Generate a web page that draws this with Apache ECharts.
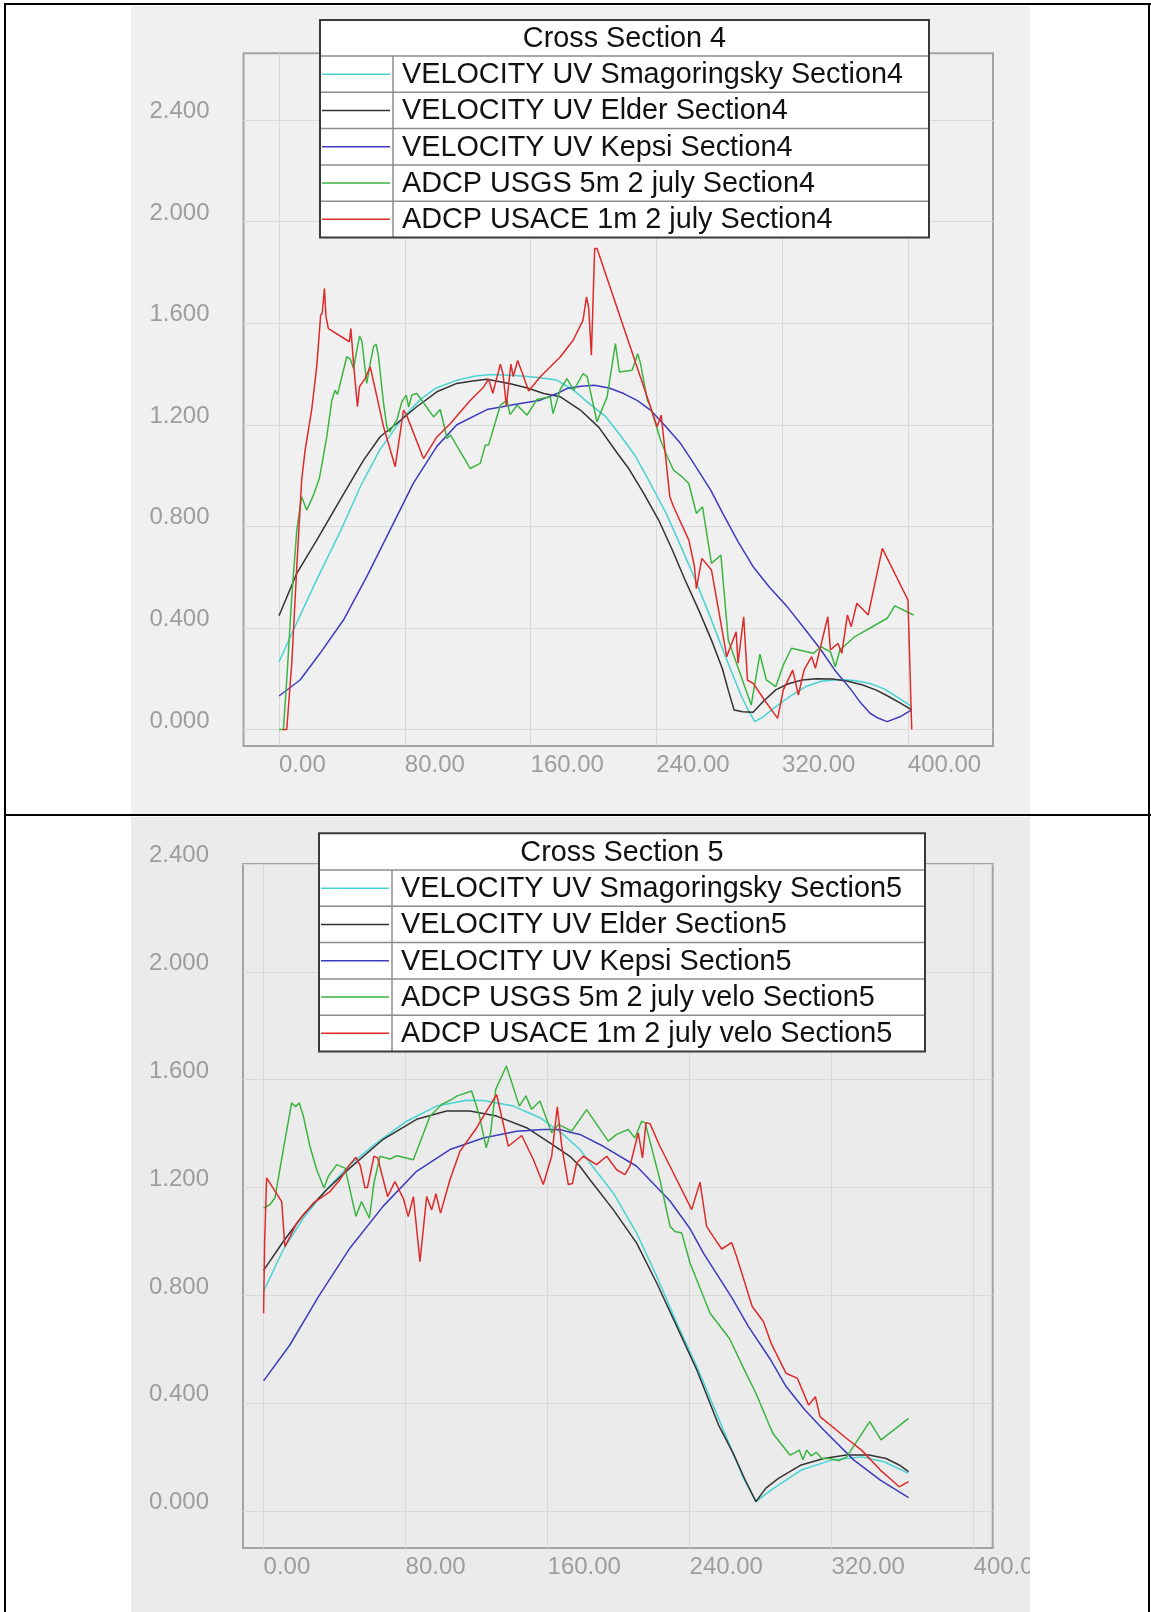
<!DOCTYPE html>
<html><head><meta charset="utf-8">
<script src="https://cdn.jsdelivr.net/npm/echarts@6/dist/echarts.min.js"></script>
<style>
html,body{margin:0;padding:0;background:#fff;width:1151px;height:1612px;overflow:hidden;}
.bg{position:absolute;}
#chart{position:absolute;left:131px;top:0;width:899px;height:1612px;overflow:hidden;}
.ln{position:absolute;background:#000;}
</style></head><body>
<div class="bg" style="left:131px;top:6px;width:899px;height:808px;background:#f0f0f0"></div>
<div class="bg" style="left:131px;top:817px;width:899px;height:795px;background:#ebebeb"></div>
<div id="chart"></div>
<div class="ln" style="left:4px;top:3px;width:1147px;height:2px"></div>
<div class="ln" style="left:4px;top:3px;width:2px;height:1609px"></div>
<div class="ln" style="left:1148px;top:3px;width:2px;height:1609px"></div>
<div class="ln" style="left:4px;top:814px;width:1147px;height:2px"></div>
<script>
// ---------- tick labels ----------
const xTicks = [0, 80, 160, 240, 320, 400];
const yTicks = [0, 0.4, 0.8, 1.2, 1.6, 2.0, 2.4];

// ---------- legend texts ----------
const title4 = 'Cross Section 4';
const names4 = ['VELOCITY UV Smagoringsky Section4', 'VELOCITY UV Elder Section4', 'VELOCITY UV Kepsi Section4', 'ADCP USGS 5m 2 july Section4', 'ADCP USACE 1m 2 july Section4'];
const title5 = 'Cross Section 5';
const names5 = ['VELOCITY UV Smagoringsky Section5', 'VELOCITY UV Elder Section5', 'VELOCITY UV Kepsi Section5', 'ADCP USGS 5m 2 july velo Section5', 'ADCP USACE 1m 2 july velo Section5'];
const colors = ['#48d3d3', '#333333', '#3c3cbc', '#3cb443', '#dd2b2b'];

// ---------- Cross Section 4 data [distance, velocity] ----------
const smag4 = [[0,0.267],[9,0.39],[24,0.59],[39,0.78],[52,0.96],[64,1.1],[79,1.23],[90,1.3],[100,1.345],[113,1.375],[125,1.392],[135,1.398],[148,1.395],[160,1.389],[170,1.382],[177,1.375],[187.5,1.336],[196,1.29],[207.8,1.232],[217,1.16],[227,1.074],[237,0.96],[246.3,0.851],[255,0.73],[263.1,0.615],[272,0.48],[280,0.352],[287,0.24],[294.3,0.129],[299,0.07],[302.7,0.031],[308,0.05],[316,0.09],[325,0.13],[335.2,0.169],[345,0.19],[356.8,0.197],[366,0.193],[376,0.181],[385,0.16],[394,0.125],[402.5,0.09]];
const elder4 = [[0,0.448],[11.3,0.615],[24,0.746],[38.9,0.904],[47,0.99],[53.7,1.06],[64.3,1.153],[74.9,1.205],[87.6,1.271],[100.4,1.33],[113.1,1.363],[123,1.372],[132.3,1.379],[147.1,1.362],[158,1.345],[168.4,1.323],[179,1.31],[191.7,1.258],[203.5,1.19],[215,1.09],[222.2,1.03],[232,0.93],[241.5,0.825],[250,0.71],[258.3,0.589],[267,0.47],[275.1,0.352],[282,0.24],[286,0.15],[289.5,0.077],[295,0.07],[301.6,0.068],[308,0.11],[316,0.156],[324,0.18],[332.8,0.195],[342,0.2],[352,0.199],[362,0.19],[371.3,0.175],[380,0.155],[388.1,0.129],[395,0.105],[402.5,0.077]];
const kepsi4 = [[0,0.132],[13.4,0.195],[26.1,0.3],[41,0.431],[55.8,0.602],[70.6,0.785],[85.5,0.97],[100.4,1.115],[113.1,1.2],[132.3,1.26],[153.5,1.284],[166.2,1.297],[176.8,1.323],[183.2,1.343],[192,1.352],[200.6,1.356],[210,1.345],[219.3,1.323],[228,1.295],[236.3,1.258],[245,1.2],[255.5,1.126],[263.1,1.055],[274.6,0.943],[282.3,0.851],[292,0.74],[301.6,0.641],[312,0.56],[323.2,0.484],[334,0.4],[344.8,0.313],[354,0.23],[364,0.156],[370,0.105],[376,0.064],[381,0.045],[386.9,0.031],[395,0.05],[402.5,0.077]];
const usgs4 = [[0,0],[2.8,0],[4.9,0.195],[8.1,0.523],[11.3,0.785],[14.4,0.917],[17.6,0.864],[21.9,0.923],[25.7,0.99],[30.4,1.153],[33.6,1.297],[35.7,1.336],[37.2,1.32],[43.1,1.468],[45.2,1.46],[47.4,1.422],[51.2,1.549],[52.7,1.53],[55.8,1.363],[58,1.442],[60.1,1.507],[61.8,1.518],[63.3,1.468],[66.5,1.284],[68.6,1.192],[70.3,1.172],[74.9,1.218],[78.1,1.29],[80.9,1.317],[82.5,1.27],[84.5,1.317],[87.7,1.323],[98.3,1.231],[102.5,1.26],[104.7,1.205],[106.8,1.146],[109,1.16],[121.6,1.028],[128,1.048],[131.2,1.12],[133.3,1.12],[140.8,1.277],[145,1.297],[147,1.24],[151.4,1.277],[157.8,1.238],[160,1.26],[164.1,1.3],[172.6,1.31],[174.3,1.244],[179,1.34],[183.2,1.382],[187.5,1.336],[193.4,1.402],[196,1.39],[202.3,1.212],[208.7,1.31],[214,1.52],[216.5,1.408],[224.6,1.415],[228.2,1.48],[230,1.44],[234.3,1.297],[236.3,1.271],[242.7,1.14],[247,1.074],[251,1.021],[255.5,1.0],[260.7,0.969],[265.5,0.851],[269.4,0.877],[275.1,0.654],[281.1,0.687],[285.8,0.352],[289.5,0.287],[300.4,0.096],[305.9,0.297],[310,0.195],[316,0.169],[320.8,0.254],[326,0.32],[339.9,0.3],[344.8,0.326],[350.8,0.306],[353.9,0.247],[356.8,0.313],[366.4,0.366],[386.9,0.438],[391.7,0.487],[403.7,0.451]];
const usace4 = [[2.3,0],[4.9,0],[8.1,0.26],[11.3,0.641],[14.4,0.982],[16.6,1.1],[20.8,1.26],[24,1.43],[26.5,1.632],[27.5,1.64],[28.9,1.737],[29.9,1.625],[31.4,1.579],[44.8,1.527],[45.7,1.579],[47.4,1.442],[49.9,1.271],[51.2,1.35],[54.8,1.383],[58,1.428],[61.8,1.324],[66.5,1.192],[73.9,1.035],[79.2,1.258],[81,1.24],[91.9,1.067],[100.4,1.152],[108.9,1.204],[121.6,1.296],[130.1,1.348],[133.3,1.38],[136,1.324],[140.8,1.439],[142.5,1.4],[144.6,1.275],[147.5,1.439],[149,1.39],[151.8,1.453],[155,1.4],[158.8,1.333],[166.2,1.389],[179,1.468],[187.1,1.533],[193.4,1.612],[195.6,1.704],[197,1.66],[198.7,1.474],[200.8,1.894],[202.3,1.894],[236.3,1.271],[240.5,1.192],[243.1,1.238],[244.8,1.14],[248.6,0.917],[251,0.877],[260.7,0.746],[264.3,0.641],[265.5,0.555],[269,0.674],[275.1,0.628],[280,0.457],[284.8,0.287],[290.8,0.385],[292,0.261],[295.6,0.444],[298,0.195],[301.6,0.182],[308.8,0.116],[317.2,0.044],[320.8,0.156],[326.8,0.234],[330.4,0.136],[334,0.234],[338.8,0.287],[341.2,0.241],[349.1,0.444],[350.8,0.313],[355.6,0.339],[358,0.3],[361.6,0.451],[364,0.405],[367.6,0.497],[374.8,0.451],[383.8,0.713],[400.1,0.51],[402.5,0]];

// ---------- Cross Section 5 data ----------
const smag5 = [[0,0.815],[11.1,0.97],[22.4,1.087],[33.7,1.18],[48.7,1.285],[63.7,1.366],[80.6,1.446],[97.5,1.502],[114.4,1.524],[123.8,1.523],[140.7,1.502],[155.7,1.459],[168.8,1.397],[178.2,1.341],[183.9,1.291],[197,1.18],[210.2,1.031],[221.5,0.871],[232.8,0.697],[244.1,0.536],[257.2,0.33],[264.6,0.214],[270.5,0.12],[277.4,0.035],[285.9,0.078],[302.9,0.152],[320,0.189],[336.9,0.201],[349.6,0.183],[363.4,0.14]];
const elder5 = [[0,0.893],[11.1,1.0],[22.4,1.099],[35.5,1.192],[48.7,1.273],[67.4,1.379],[86.2,1.453],[103.1,1.484],[116.3,1.484],[131.3,1.465],[148.2,1.422],[161.3,1.366],[172.6,1.316],[178.2,1.279],[183.9,1.229],[197,1.118],[210.2,0.994],[221.5,0.846],[232.8,0.685],[244.1,0.523],[256.3,0.32],[264.6,0.214],[271,0.12],[277.4,0.035],[283,0.085],[290.1,0.121],[302.9,0.171],[315.6,0.195],[328.4,0.208],[341.1,0.208],[350.7,0.195],[358.1,0.171],[363.4,0.146]];
const kepsi5 = [[0,0.483],[14.7,0.615],[31,0.796],[48.7,0.976],[67.4,1.131],[86.2,1.26],[105,1.341],[123.8,1.384],[142.6,1.409],[157.6,1.415],[167,1.415],[172.6,1.405],[178.2,1.397],[191.4,1.353],[210.2,1.279],[229,1.15],[240,1.05],[248,0.955],[264,0.79],[273.1,0.685],[285.3,0.565],[294.4,0.462],[305,0.375],[315.6,0.301],[332.6,0.189],[347.5,0.115],[363.4,0.05]];
const usgs5 = [[0,1.124],[3.5,1.136],[6.4,1.161],[11.1,1.341],[15.8,1.514],[18,1.5],[20.1,1.514],[22.4,1.465],[26.1,1.353],[29.9,1.267],[34,1.198],[36.5,1.242],[41.2,1.285],[45.9,1.272],[48.7,1.191],[52,1.093],[55.2,1.148],[59.6,1.086],[62.2,1.217],[65.6,1.316],[71.2,1.306],[75,1.318],[84.4,1.303],[93.8,1.465],[100.3,1.508],[106,1.527],[108.8,1.539],[117.2,1.558],[121.4,1.471],[125.4,1.347],[127.9,1.403],[130.8,1.564],[136.8,1.651],[144.1,1.502],[147.8,1.54],[151,1.49],[155.7,1.521],[162.3,1.403],[166.1,1.434],[173.6,1.409],[182,1.489],[194.2,1.372],[198.9,1.397],[205.5,1.415],[209.2,1.384],[213,1.446],[215,1.44],[223.3,1.229],[229,1.056],[231.8,1.037],[235.6,1.031],[240.3,0.919],[251.6,0.734],[262.5,0.64],[270.4,0.53],[277.4,0.437],[285.3,0.313],[287,0.288],[296.5,0.208],[299,0.215],[301.8,0.226],[303.9,0.19],[306,0.226],[308.5,0.205],[311.4,0.218],[314.6,0.195],[318.8,0.195],[324.1,0.187],[328.4,0.2],[341.5,0.332],[347.9,0.264],[363.4,0.344]];
const usace5 = [[0,0.734],[0.6,1.0],[1.7,1.236],[10.2,1.148],[12,0.981],[14.9,1.018],[18.6,1.068],[28,1.142],[37.4,1.185],[43,1.229],[48,1.28],[52,1.312],[54.5,1.28],[57.1,1.199],[58.5,1.2],[62.2,1.316],[64.3,1.31],[66.5,1.253],[69.9,1.166],[74,1.222],[78.7,1.16],[81.5,1.092],[84.4,1.166],[88.1,0.925],[91.9,1.167],[94.7,1.117],[97.1,1.177],[99.7,1.105],[105,1.229],[110.6,1.334],[120,1.421],[123.8,1.464],[131.3,1.545],[137.9,1.353],[145.4,1.393],[152,1.304],[157.6,1.211],[162.3,1.316],[165.5,1.499],[168,1.353],[171.7,1.211],[174,1.215],[176.4,1.291],[180.1,1.316],[187.6,1.285],[193.3,1.316],[198.9,1.266],[203.6,1.248],[206.4,1.279],[211.1,1.403],[213.5,1.31],[215.4,1.44],[217.7,1.437],[223.3,1.353],[229,1.279],[236.5,1.18],[241.2,1.118],[245.9,1.22],[249.6,1.056],[253.4,1.018],[258.1,0.972],[263.7,0.996],[266.5,0.944],[275.3,0.759],[281.6,0.703],[285.9,0.623],[294.4,0.511],[300.8,0.492],[307.1,0.393],[310.9,0.424],[313.5,0.35],[328.4,0.27],[336.9,0.226],[347.5,0.152],[353.9,0.115],[358.1,0.09],[363.4,0.109]];

const panel4 = [smag4, elder4, kepsi4, usgs4, usace4];
const panel5 = [smag5, elder5, kepsi5, usgs5, usace5];

const FONT = '"Liberation Sans", Arial, sans-serif';
const LABEL = '#9d9d9d';

function xAxis(gi, min, max) {
  return {
    type: 'value', gridIndex: gi, min: min, max: max,
    axisLine: { show: false },
    axisTick: { show: false, customValues: xTicks },
    axisLabel: { customValues: xTicks, formatter: v => v.toFixed(2), align: 'left', color: LABEL, fontSize: 24, fontFamily: FONT, margin: 7, hideOverlap: false },
    splitLine: { show: true, lineStyle: { color: '#d9d9d9', width: 1 } }
  };
}
function yAxis(gi, min, max) {
  return {
    type: 'value', gridIndex: gi, min: min, max: max,
    axisLine: { show: false },
    axisTick: { show: false, customValues: yTicks },
    axisLabel: { customValues: yTicks, formatter: v => v.toFixed(3), color: LABEL, fontSize: 24, fontFamily: FONT, margin: 34, verticalAlign: 'bottom', lineHeight: 17 },
    splitLine: { show: true, lineStyle: { color: '#d9d9d9', width: 1 } }
  };
}

const series = [];
[panel4, panel5].forEach((panel, pi) => {
  panel.forEach((d, i) => {
    series.push({
      type: 'line', xAxisIndex: pi, yAxisIndex: pi, data: d,
      symbol: 'none', showSymbol: false, animation: false,
      lineStyle: { color: colors[i], width: 1.5 }, z: 3 + i
    });
  });
});

function legend(x, y, w, titleH, rowH, divX, title, names) {
  const els = [];
  const h = titleH + rowH * names.length;
  els.push({ type: 'rect', shape: { x: x, y: y, width: w, height: h }, style: { fill: '#fff', stroke: 'none' }, z: 100 });
  for (let i = 0; i < names.length; i++) {
    const ry = y + titleH + rowH * i;
    els.push({ type: 'line', shape: { x1: x, y1: ry, x2: x + w, y2: ry }, style: { stroke: '#8c8c8c', lineWidth: 1.5 }, z: 101 });
    const cy = ry + rowH / 2;
    els.push({ type: 'line', shape: { x1: x + 2, y1: cy, x2: divX - 3, y2: cy }, style: { stroke: colors[i], lineWidth: 1.5 }, z: 101 });
    els.push({ type: 'text', style: { text: names[i], x: divX + 9, y: cy + 1, fill: '#111', fontSize: 28.8, fontFamily: FONT, align: 'left', verticalAlign: 'middle' }, z: 102 });
  }
  els.push({ type: 'line', shape: { x1: divX, y1: y + titleH, x2: divX, y2: y + h }, style: { stroke: '#8c8c8c', lineWidth: 1.5 }, z: 101 });
  els.push({ type: 'text', style: { text: title, x: x + w / 2, y: y + titleH / 2 + 1, fill: '#111', fontSize: 28.8, fontFamily: FONT, align: 'center', verticalAlign: 'middle' }, z: 102 });
  els.push({ type: 'rect', shape: { x: x, y: y, width: w, height: h }, style: { fill: 'none', stroke: '#3a3a3a', lineWidth: 2 }, z: 103 });
  return els;
}

const chart = echarts.init(document.getElementById('chart'), null, { renderer: 'canvas' });
chart.setOption({
  animation: false,
  backgroundColor: 'transparent',
  grid: [
    { left: 112.5, top: 53.3, width: 749.5, height: 692.7, show: true, borderColor: '#a3a3a3', borderWidth: 2, backgroundColor: 'transparent', containLabel: false, outerBoundsMode: 'none' },
    { left: 112, top: 864, width: 749.7, height: 684, show: true, borderColor: '#a3a3a3', borderWidth: 2, backgroundColor: 'transparent', containLabel: false, outerBoundsMode: 'none' }
  ],
  xAxis: [xAxis(0, -22.6, 454.2), xAxis(1, -11.6, 410.8)],
  yAxis: [yAxis(0, -0.065, 2.663), yAxis(1, -0.137, 2.4)],
  series: series,
  graphic: legend(189, 20, 609, 36, 36.3, 262, title4, names4).concat(legend(188, 833.3, 606, 36.7, 36.3, 261, title5, names5))
});
</script>
</body></html>
